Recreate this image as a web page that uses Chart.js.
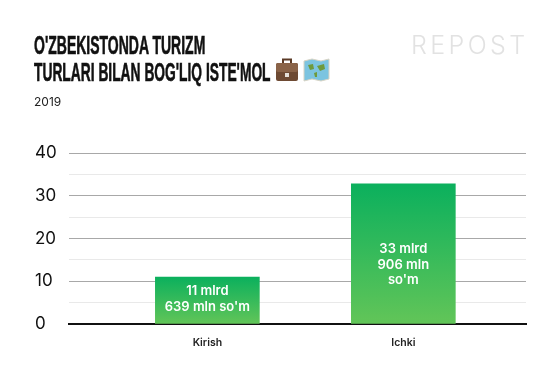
<!DOCTYPE html>
<html>
<head>
<meta charset="utf-8">
<script src="https://cdn.jsdelivr.net/npm/chart.js@4"></script>
<style>
html, body { margin: 0; background: #fff; }
#wrap { position: relative; width: 560px; height: 373px; overflow: hidden; }
#chart { position: absolute; left: 0; top: 0; }
.title { position: absolute; left: 34px; font: 700 25px/30px "Liberation Sans", sans-serif; color: #111; white-space: nowrap; transform-origin: left top; transform: scaleX(0.56); -webkit-text-stroke: 0.6px #111; }
#sub { position: absolute; left: 34px; top: 95px; font: 400 12px/14px Inter, sans-serif; color: #222; }
#logo { position: absolute; left: 411px; top: 31px; font: 300 25px/28px Inter, sans-serif; letter-spacing: 3.4px; color: #e2e2e2; }
.icon { position: absolute; top: 58px; }
</style>
</head>
<body>
<div id="wrap">
  <canvas id="chart" width="560" height="373"></canvas>
  <div class="title" style="top:30px">O'ZBEKISTONDA TURIZM</div>
  <div class="title" style="top:57px; transform: scaleX(0.552)">TURLARI BILAN BOG'LIQ ISTE'MOL</div>
  <svg class="icon" style="left:275px" width="24" height="24" viewBox="0 0 24 24">
    <rect x="8" y="1.5" width="8" height="5" fill="none" stroke="#5b3a26" stroke-width="2"/>
    <rect x="1" y="5" width="22" height="18" rx="2" fill="#6e4a33"/>
    <rect x="1" y="5" width="22" height="9" rx="2" fill="#8a6348"/>
    <rect x="10" y="15" width="4" height="4" fill="#e6e0d8"/>
  </svg>
  <svg class="icon" style="left:303px" width="27" height="24" viewBox="0 0 27 24">
    <path d="M1 3 L9 1 L18 3 L26 1 V21 L18 23 L9 21 L1 23 Z" fill="#7cc4e0" stroke="#d9d4c4"/>
    <path d="M5 7 L10 6 L11 11 L7 12 Z M14 8 L21 6 L22 11 L17 13 Z M11 15 L14 14 L14 19 L12 19 Z" fill="#6f9a3c"/>
  </svg>
  <div id="sub">2019</div>
  <div id="logo">REPOST</div>
</div>
<script>
const categories = ['Kirish', 'Ichki'];
const values = [11, 32.8];
const barLabels = [['11 mlrd', "639 mln so'm"], ['33 mlrd', '906 mln', "so'm"]];
const yTicks = [0, 10, 20, 30, 40];

// bar text sits a bit below the middle of the bar, Ichki more than Kirish
const labelShift = [-1, 11];

const barText = {
    id: 'barText',
    afterDatasetsDraw(chart) {
        const c = chart.ctx;
        chart.getDatasetMeta(0).data.forEach((bar, i) => {
            const lines = barLabels[i];
            const mid = (bar.y + bar.base) / 2 + labelShift[i];
            c.save();
            c.fillStyle = '#fff';
            c.font = '600 13px Inter, sans-serif';
            c.textAlign = 'center';
            c.textBaseline = 'middle';
            lines.forEach((line, n) => {
                c.fillText(line, bar.x, mid + (n - (lines.length - 1) / 2) * 15.5);
            });
            c.restore();
        });
    }
};

new Chart(document.getElementById('chart').getContext('2d'), {
    type: 'bar',
    data: {
        datasets: [{
            data: values.map((v, i) => ({ x: i, y: v })),
            barThickness: 104,
            borderSkipped: false,
            backgroundColor: function(ctx) {
                const chart = ctx.chart;
                if (!chart.chartArea || ctx.raw === undefined) return '#1cb25f';
                const y = chart.scales.y;
                const g = chart.ctx.createLinearGradient(0, y.getPixelForValue(ctx.raw.y), 0, y.getPixelForValue(0));
                g.addColorStop(0, '#0bb05d');
                g.addColorStop(1, '#62c558');
                return g;
            }
        }]
    },
    options: {
        responsive: false,
        animation: false,
        layout: { padding: { left: 35, right: 34, top: 153, bottom: 0 } },
        plugins: { legend: { display: false }, tooltip: { enabled: false } },
        scales: {
            x: {
                type: 'linear',
                offset: false,
                min: -0.706,
                max: 1.626,
                afterBuildTicks: function(axis) {
                    axis.ticks = categories.map((c, i) => ({ value: i }));
                },
                afterFit: function(axis) { axis.height = 49; },
                grid: { display: false },
                border: { color: '#111', width: 2 },
                ticks: {
                    autoSkip: false,
                    maxRotation: 0,
                    padding: 5,
                    color: '#222',
                    font: { family: 'Inter, sans-serif', size: 10.5, weight: '600' },
                    callback: function(v) { return categories[v]; }
                }
            },
            y: {
                min: 0,
                max: 40,
                afterFit: function(axis) { axis.width = 34; },
                border: { display: false },
                grid: {
                    drawTicks: false,
                    lineWidth: 1,
                    color: function(ctx) {
                        return yTicks.includes(ctx.tick.value) ? '#a8a8a8' : '#e9e9e9';
                    }
                },
                ticks: {
                    stepSize: 5,
                    autoSkip: false,
                    crossAlign: 'far',
                    padding: 0,
                    color: '#111',
                    font: { family: 'Inter, sans-serif', size: 17, weight: '400' },
                    callback: function(v) { return yTicks.includes(v) ? String(v) : ''; }
                }
            }
        }
    },
    plugins: [barText]
});
</script>
</body>
</html>
